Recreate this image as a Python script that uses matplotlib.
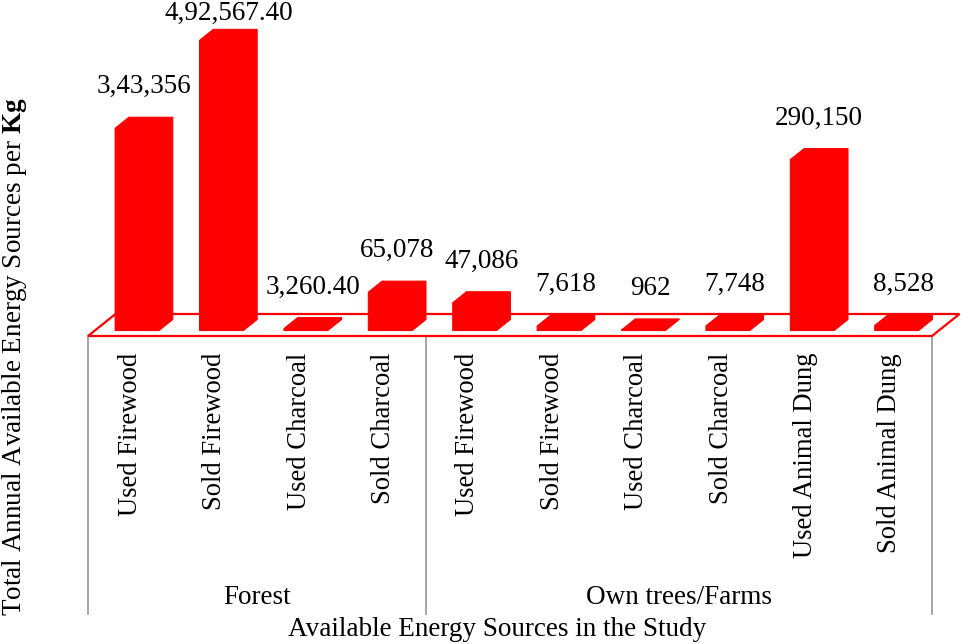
import matplotlib
matplotlib.use("Agg")
import matplotlib.pyplot as plt
from matplotlib.patches import Polygon

# data
categories = ["Used Firewood", "Sold Firewood", "Used Charcoal", "Sold Charcoal",
              "Used Firewood", "Sold Firewood", "Used Charcoal", "Sold Charcoal",
              "Used Animal Dung", "Sold Animal Dung"]
values = [343356, 492567.40, 3260.40, 65078, 47086, 7618, 962, 7748, 290150, 8528]
value_labels = ["3,43,356", "4,92,567.40", "3,260.40", "65,078", "47,086",
                "7,618", "962", "7,748", "290,150", "8,528"]
groups = ["Forest", "Own trees/Farms"]
group_sizes = [4, 6]

RED = "#ff0000"
GRAY = "#8c8c8c"
FS = 19.5
FS_CAT = 19.2

plt.rcParams.update({
    "font.family": ["Liberation Serif", "DejaVu Serif"],
    "mathtext.fontset": "custom",
    "mathtext.rm": "Liberation Serif",
    "mathtext.bf": "Liberation Serif:bold",
})

W, H = 969, 644
fig = plt.figure(figsize=(W / 100, H / 100), dpi=100)
fig.patch.set_facecolor("white")

# plot box in pixels: x 88..932, value 0 at y=336, ymax at ~41
YMAX = 500000
box_h = 294.5
ax = fig.add_axes([88 / W, (H - 336) / H, 844 / W, box_h / H])
ax.set_xlim(0, len(categories))
ax.set_ylim(0, YMAX)
ax.axis("off")

VPP = YMAX / box_h            # value units per pixel
DX = 27.5 / 84.4              # floor depth, category units
DY = 22 * VPP                 # floor depth, value units
BW = 0.52                     # bar face width (slot fraction)
Z0, Z1 = 0.25, 0.75           # bar depth range inside floor


def p(x, y, z):
    return (x + z * DX, y + z * DY)


n = len(categories)
floor = Polygon([p(0, 0, 0), p(n, 0, 0), p(n, 0, 1), p(0, 0, 1)], closed=True,
                facecolor="white", edgecolor=RED, lw=1.6, clip_on=False, zorder=1)
ax.add_patch(floor)

label_cap = YMAX + 22 * VPP
for i, (v, lab) in enumerate(zip(values, value_labels)):
    xl, xr = i + 0.5 - BW / 2, i + 0.5 + BW / 2
    pts = [p(xl, 0, Z0), p(xr, 0, Z0), p(xr, 0, Z1), p(xr, v, Z1),
           p(xl, v, Z1), p(xl, v, Z0)]
    ax.add_patch(Polygon(pts, closed=True, facecolor=RED, edgecolor=RED,
                         lw=0.8, clip_on=False, zorder=2))
    lx, ly = p(i + 0.5, v, 0.5)
    ly = min(v + Z1 * DY + 24 * VPP, label_cap)
    ax.text(lx, ly, lab, ha="center", va="baseline", fontsize=FS, clip_on=False)

# category labels, top-aligned under the floor
for i, c in enumerate(categories):
    ax.text(i + 0.5, -17 * VPP, c, rotation=90, rotation_mode="anchor",
            ha="right", va="center", fontsize=FS_CAT, clip_on=False)

# group separators and labels
bottom = -278 * VPP
edges = [0]
for s in group_sizes:
    edges.append(edges[-1] + s)
for e in edges:
    ax.plot([e, e], [0, bottom], color=GRAY, lw=1.1, clip_on=False, zorder=0)
for g, a, b in zip(groups, edges[:-1], edges[1:]):
    ax.text((a + b) / 2, -262 * VPP, g, ha="center", va="center",
            fontsize=FS, clip_on=False)

fig.text(497 / W, 1 - 630 / H, "Available Energy Sources in the Study",
         ha="center", va="center", fontsize=FS)
fig.text(15 / W, 1 - 357 / H,
         r"Total Annual Available Energy Sources per $\mathbf{Kg}$",
         rotation=90, ha="center", va="center", fontsize=FS)

fig.savefig("out.png", dpi=100, facecolor="white")
